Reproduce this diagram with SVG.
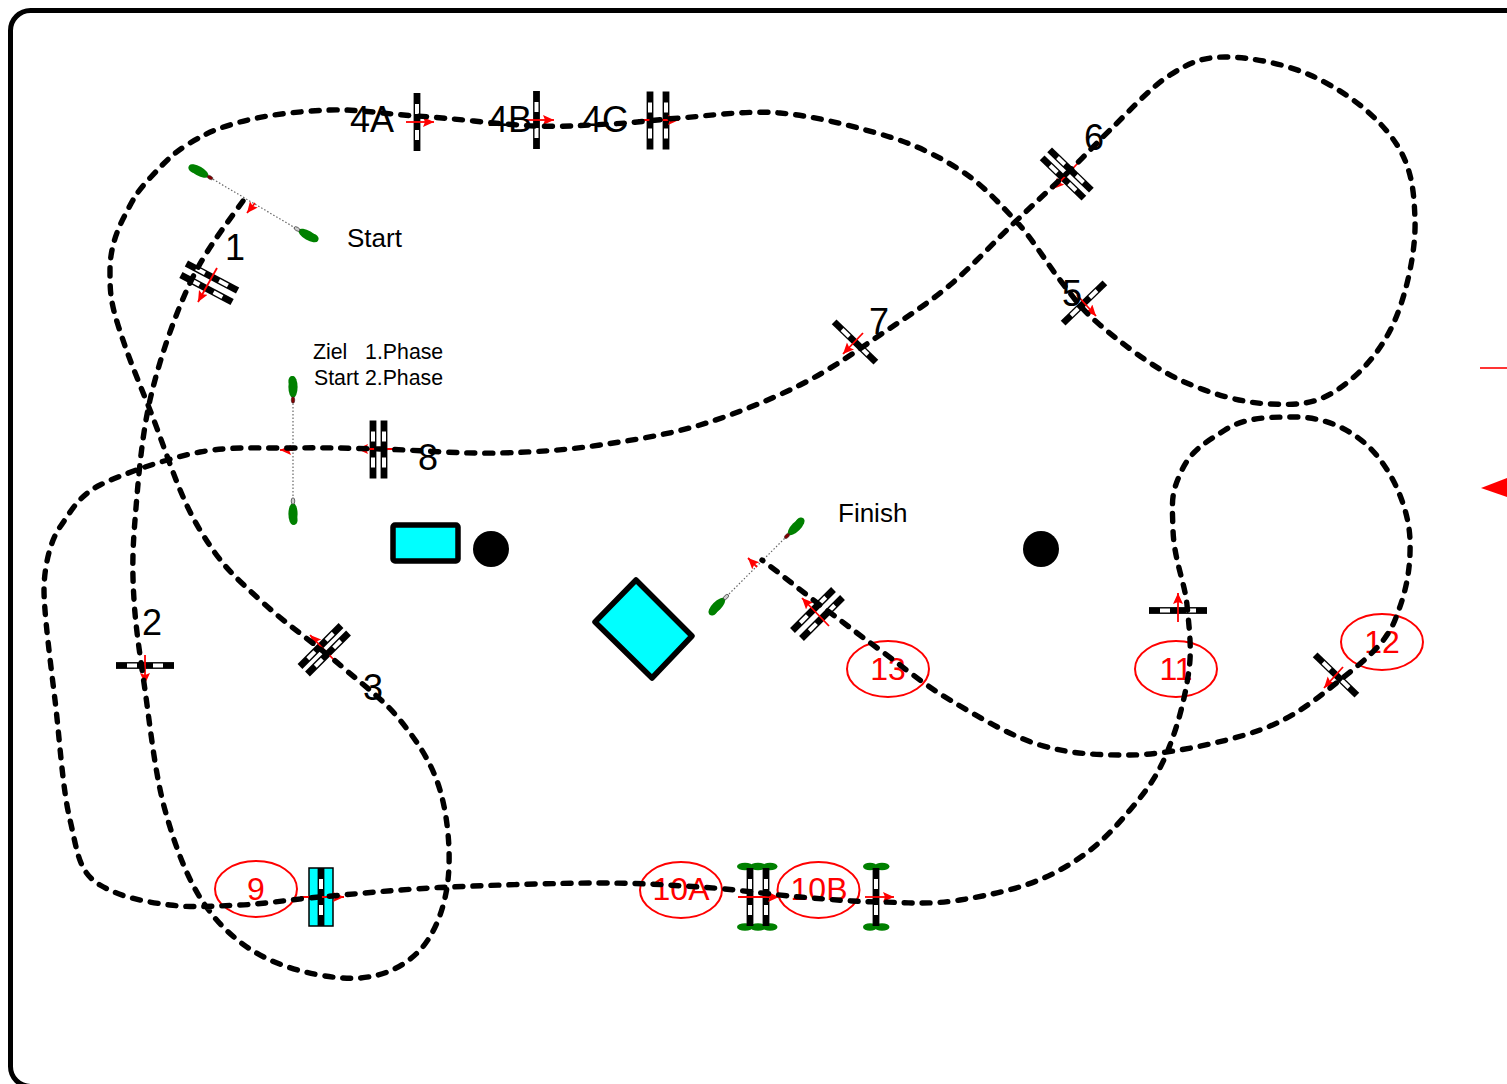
<svg xmlns="http://www.w3.org/2000/svg" width="1507" height="1084" viewBox="0 0 1507 1084">
<style>
text{font-family:"Liberation Sans",Arial,sans-serif;white-space:pre}
.n{font-size:36px;fill:#000;text-anchor:middle}
.n4{font-size:36px;fill:#000}
.r{font-size:32px;fill:#f00;text-anchor:middle}
.s{font-size:26px;fill:#000}
.t{font-size:21.3px;fill:#000}
.oval{fill:none;stroke:#f00;stroke-width:2}
.arrow{fill:none;stroke:#f00;stroke-width:1.8;marker-end:url(#head)}
.tether{fill:none;stroke:#666;stroke-width:1.2;stroke-dasharray:1.5 2}
.route{fill:none;stroke:#000;stroke-width:5.4;stroke-linecap:round;stroke-dasharray:8 10}
.cy{fill:#0ff;stroke:#000;stroke-width:5.5;stroke-linejoin:round}
.g{fill:#008000}
</style>
<defs>
<marker id="head" markerUnits="userSpaceOnUse" markerWidth="13" markerHeight="11" refX="11" refY="5" orient="auto">
<path d="M0,0 L11,5 L0,10 L2,5 Z" fill="#f00"/>
</marker>
<g id="pole"><rect x="-29" y="-3.4" width="58" height="6.8" fill="#000"/><rect x="-18" y="-2" width="10" height="4" fill="#fff"/><rect x="8" y="-2" width="10" height="4" fill="#fff"/></g>
<g id="buoyA"><ellipse cx="-13" cy="0" rx="11" ry="4.6" class="g"/><ellipse cx="-19" cy="1" rx="5" ry="3.6" class="g"/><ellipse cx="0" cy="0" rx="3.2" ry="1.8" fill="#800000" stroke="#333" stroke-width="0.5"/></g>
<g id="buoyB"><ellipse cx="-13" cy="0" rx="11" ry="4.6" class="g"/><ellipse cx="-19" cy="1" rx="5" ry="3.6" class="g"/><ellipse cx="0" cy="0" rx="3.2" ry="1.8" fill="#ccc" stroke="#333" stroke-width="0.7"/></g>
</defs>
<rect x="10.5" y="10.5" width="1560" height="1076" rx="20" ry="20" fill="#fff" stroke="#000" stroke-width="5"/>

<g id="box"><rect x="393" y="525" width="65" height="36" rx="2" class="cy"/></g>
<g id="diamond"><path d="M636,580 L692,636 L652,678 L595,622 Z" class="cy"/></g>
<g id="pylon1"><circle cx="491" cy="549" r="18" fill="#000"/></g>
<g id="pylon2"><circle cx="1041" cy="549" r="18" fill="#000"/></g>

<g id="start">
<path class="tether" d="M210,177.5 L297,229"/>
<use href="#buoyA" transform="translate(210,177.5) rotate(30)"/>
<use href="#buoyB" transform="translate(297,229) rotate(210)"/>
<path class="arrow" d="M255,203 L247,213"/>
<text class="s" x="347" y="247">Start</text>
</g>
<g id="phase">
<path class="tether" d="M293,400 L293,500"/>
<use href="#buoyA" transform="translate(293,400) rotate(90)"/>
<use href="#buoyB" transform="translate(293,501) rotate(-90)"/>
<path class="arrow" d="M293,450 L280,450"/>
<text class="t" x="313" y="359">Ziel   1.Phase</text>
<text class="t" x="314" y="385">Start 2.Phase</text>
</g>
<g id="finish">
<path class="tether" d="M787,536 L726,597"/>
<use href="#buoyA" transform="translate(787,536) rotate(135)"/>
<use href="#buoyB" transform="translate(726,597) rotate(-45)"/>
<path class="arrow" d="M757,567 L748,558"/>
<text class="s" x="838" y="522">Finish</text>
</g>

<g id="gate1"><use href="#pole" transform="translate(212,277) rotate(28)"/><use href="#pole" transform="translate(206.5,288.5) rotate(28)"/><path class="arrow" d="M217,268 L198,302"/><text class="n" x="235" y="260">1</text></g>
<g id="gate2"><use href="#pole" transform="translate(145,665.5)"/><path class="arrow" d="M145,655 L145,684"/><text class="n" x="152" y="635">2</text></g>
<g id="gate3"><use href="#pole" transform="translate(320.5,646) rotate(-45)"/><use href="#pole" transform="translate(328,653.5) rotate(-45)"/><path class="arrow" d="M336,662 L310,635"/><text class="n" x="373" y="700">3</text></g>
<g id="gate4A"><use href="#pole" transform="translate(417,122) rotate(90)"/><path class="arrow" d="M406,122 L434,122"/><text class="n4" x="350" y="132">4A</text></g>
<g id="gate4B"><use href="#pole" transform="translate(536.5,120) rotate(90)"/><path class="arrow" d="M525,120 L554,120"/><text class="n4" x="488" y="132">4B</text></g>
<g id="gate4C"><use href="#pole" transform="translate(650,120.5) rotate(90)"/><use href="#pole" transform="translate(666,120.5) rotate(90)"/><path class="arrow" d="M638,120 L679,120"/><text class="n4" x="582" y="132">4C</text></g>
<g id="gate5"><use href="#pole" transform="translate(1084,303) rotate(-44)"/><path class="arrow" d="M1077,295 L1096,316"/><text class="n" x="1072" y="306">5</text></g>
<g id="gate6"><use href="#pole" transform="translate(1070.5,170) rotate(44)"/><use href="#pole" transform="translate(1063,178) rotate(44)"/><path class="arrow" d="M1079,162 L1053,189"/><text class="n" x="1094" y="150">6</text></g>
<g id="gate7"><use href="#pole" transform="translate(855,342) rotate(44)"/><path class="arrow" d="M863,333 L843,354"/><text class="n" x="879" y="334">7</text></g>
<g id="gate8"><use href="#pole" transform="translate(373,449.5) rotate(90)"/><use href="#pole" transform="translate(384,449.5) rotate(90)"/><path class="arrow" d="M395,449 L357,449"/><text class="n" x="428" y="470">8</text></g>
<g id="gate9"><ellipse class="oval" cx="256" cy="889" rx="41" ry="28"/><rect x="309" y="868" width="24" height="58" fill="#0ff" stroke="#000" stroke-width="1.5"/><use href="#pole" transform="translate(321,897) rotate(90)"/><path class="arrow" d="M300,897 L344,897"/><text class="r" x="256" y="900">9</text></g>
<g id="gate10A"><ellipse class="oval" cx="681" cy="890" rx="41" ry="28"/><ellipse class="g" cx="745" cy="866.5" rx="8" ry="3.8"/><ellipse class="g" cx="758" cy="866.5" rx="8" ry="3.8"/><ellipse class="g" cx="770" cy="866.5" rx="7.5" ry="3.8"/><ellipse class="g" cx="745" cy="927" rx="8" ry="3.8"/><ellipse class="g" cx="758" cy="927" rx="8" ry="3.8"/><ellipse class="g" cx="770" cy="927" rx="7.5" ry="3.8"/><use href="#pole" transform="translate(750,897) rotate(90)"/><use href="#pole" transform="translate(766,897) rotate(90)"/><path class="arrow" d="M738,897 L779,897"/><text class="r" x="681" y="900">10A</text></g>
<g id="gate10B"><ellipse class="oval" cx="818.5" cy="890" rx="41" ry="28"/><ellipse class="g" cx="870" cy="866.5" rx="7" ry="3.8"/><ellipse class="g" cx="882" cy="866.5" rx="7.5" ry="3.8"/><ellipse class="g" cx="870" cy="927" rx="7" ry="3.8"/><ellipse class="g" cx="882" cy="927" rx="7.5" ry="3.8"/><use href="#pole" transform="translate(876,897) rotate(90)"/><path class="arrow" d="M865,897 L894,897"/><text class="r" x="819" y="900">10B</text></g>
<g id="gate11"><ellipse class="oval" cx="1176" cy="669" rx="41" ry="28"/><use href="#pole" transform="translate(1178,610.5)"/><path class="arrow" d="M1178,622 L1178,593"/><text class="r" x="1176" y="680">11</text></g>
<g id="gate12"><ellipse class="oval" cx="1382" cy="642" rx="41" ry="28"/><use href="#pole" transform="translate(1336,675) rotate(44)"/><path class="arrow" d="M1343,667 L1324,688"/><text class="r" x="1382" y="653">12</text></g>
<g id="gate13"><ellipse class="oval" cx="888" cy="669" rx="41" ry="28"/><use href="#pole" transform="translate(813,610) rotate(-45)"/><use href="#pole" transform="translate(822,618) rotate(-45)"/><path class="arrow" d="M829,626 L802,598"/><text class="r" x="888" y="680">13</text></g>

<g id="offpage"><path d="M1480,368 L1507,368" stroke="#f00" stroke-width="1.6" fill="none"/><path d="M1481,488 L1507,478 L1507,497 Z" fill="#f00"/></g>

<g id="connectors">
<path class="route" d="M243,201 C228,222 205.5,250 190,283 S159,360.5 150,400 S137.7,487 135,520 S132.3,572 134,600 S140,655 145,690 S155,774 165,810 S187.5,880 205,905 S244,948 270,960 S335,980 360,978 S405,966 420,950 S445,907 448,880 S448,817 440,790 S417,741 400,720 S363,685 340,665 S288,626 260,600 S222,566 200,530 S165,447 148,405 S126,350 118,325 S110,290 110,270 S116,232 125,215 S136,193 150,178 S173,153 190,143 S215,129 240,122 S301,111 330,110 S383,114 417,116 S504,125 536,126 S586,125 610,124 S652,120 680,118 S747,110 780,113 S845,124 880,134 S938,156 960,170 S998,202 1015,220 S1046,262 1060,280 S1080,308 1100,325 S1152,367 1180,380 S1242,403 1270,404 S1316,405 1340,388 S1383,348 1395,320 S1416,250 1415,220 S1412,163 1390,135 S1337,87 1310,75 S1248,57 1225,57 S1189,63 1170,75 S1127.5,113 1110,130 S1081,160 1065,175 S1034,204 1015,222 S972.5,266 950,285 S905,318 880,335 S830,370 800,385 S733,415 700,425 S633,440 600,445 S537,452 500,453 S415,450 380,449 S320,447.5 290,448 S232,446 200,452 S122,474 100,485 S70,513 60,527 S44,568 44,590 S50.5,663 55,700 S62.5,789 70,820 S78,872 100,885 S147,902 170,905 S215,906 240,905 S285,900 320,897 S403,889 450,887 S558,883 600,883 S667,885 700,887 S770,894.5 800,897 S853,901.5 880,902 S930,905 960,900 S1028,888 1060,870 S1108,836 1130,810 S1160,771 1170,745 S1186,692 1189,670 S1189,627 1187,605 S1174,560 1173,530 S1171,494 1181,472 S1205,443 1225,430 S1270,417 1295,417 S1348,426 1370,448 S1409,508 1410,540 S1405,595 1395,620 S1362.5,662 1340,680 S1295,717.5 1260,730 S1165,755 1130,755 S1070,754 1040,745 S977,716 950,700 S902,666 880,650 S840,620 820,605 S782,575 762,560"/>
</g>
</svg>
